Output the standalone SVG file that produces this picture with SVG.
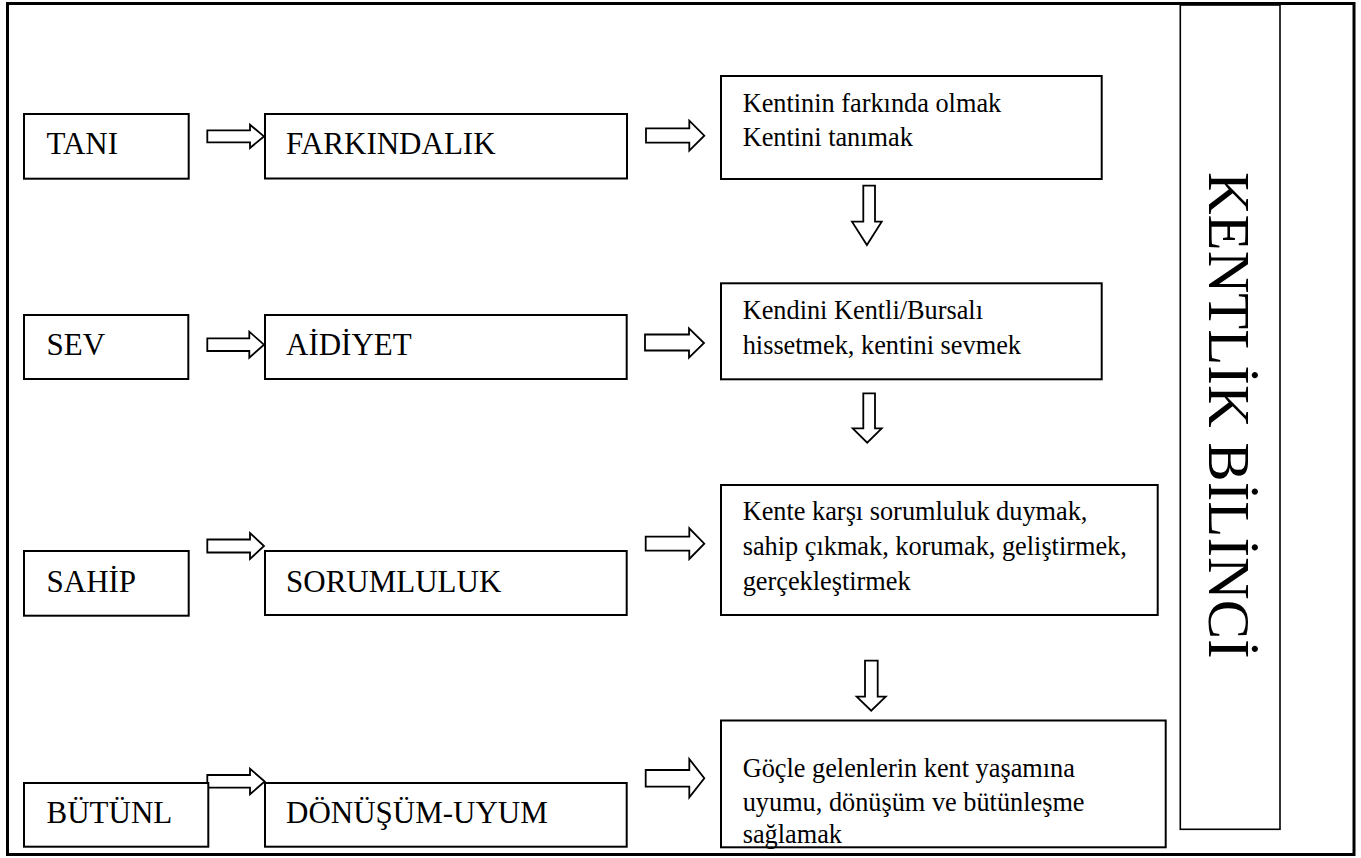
<svg xmlns="http://www.w3.org/2000/svg" width="1361" height="858" viewBox="0 0 1361 858">
<style>
.box{fill:#fff;stroke:#000;stroke-width:2}
.arr{fill:#fff;stroke:#000;stroke-width:1.8;stroke-linejoin:miter}
.lbl{font-family:"Liberation Serif","Times New Roman",serif;font-size:31px;fill:#000}
.txt{font-family:"Liberation Serif","Times New Roman",serif;font-size:26.3px;fill:#000}
.vt{font-family:"Liberation Serif","Times New Roman",serif;font-size:59px;fill:#000}
</style>
<rect x="0" y="0" width="1361" height="858" fill="#fff"/>
<rect id="frame" x="7.5" y="3.5" width="1346.5" height="851" fill="none" stroke="#000" stroke-width="3"/>

<g id="connectors">
<polygon class="arr" points="207.3,130.4 250,130.4 250,124.7 264,136.4 250,148 250,142.4 207.3,142.4"/>
<polygon class="arr" points="646,128.3 689.3,128.3 689.3,120.7 704.3,135.7 689.3,150.7 689.3,142.7 646,142.7"/>
<polygon class="arr" points="852,221.7 863.3,221.7 863.3,185.7 875,185.7 875,221.7 881.7,221.7 866.9,245"/>

<polygon class="arr" points="207.3,338.3 249.3,338.3 249.3,331.7 264,344.7 249.3,357.7 249.3,351 207.3,351"/>
<polygon class="arr" points="645,334.5 689,334.5 689,328.3 704,343 689,357.7 689,350.5 645,350.5"/>
<polygon class="arr" points="852.7,428.3 863.3,428.3 863.3,393.3 875,393.3 875,428.3 881.7,428.3 867.2,442.7"/>

<polygon class="arr" points="207.3,539.5 250,539.5 250,533 264,546 250,559 250,552.5 207.3,552.5"/>
<polygon class="arr" points="645.7,536.7 689.3,536.7 689.3,528.3 704.3,543.7 689.3,559 689.3,550.7 645.7,550.7"/>
<polygon class="arr" points="856.7,696.7 865,696.7 865,660.7 877.7,660.7 877.7,696.7 885.7,696.7 871.2,710.7"/>

<polygon class="arr" points="207.3,775 250,775 250,768.7 264.7,781.5 250,794.3 250,787.7 207.3,787.7"/>
<polygon class="arr" points="645.7,770 689.3,770 689.3,759 704.3,778.2 689.3,797.3 689.3,786.7 645.7,786.7"/>
</g>

<g id="tani"><rect class="box" x="24" y="114" width="164.7" height="64.7"/><text class="lbl" x="46.5" y="154.3">TANI</text></g>
<g id="farkindalik"><rect class="box" x="265" y="114" width="362" height="64.5"/><text class="lbl" x="286" y="154.3">FARKINDALIK</text></g>
<g id="kentinin"><rect class="box" x="721" y="76" width="380.7" height="103"/><text class="txt" x="742.7" y="111.7">Kentinin farkında olmak</text><text class="txt" x="742.7" y="146">Kentini tanımak</text></g>

<g id="sev"><rect class="box" x="24" y="315" width="164.3" height="64"/><text class="lbl" x="46.5" y="355">SEV</text></g>
<g id="aidiyet"><rect class="box" x="265" y="315" width="361.7" height="64"/><text class="lbl" x="286" y="355">AİDİYET</text></g>
<g id="kendini"><rect class="box" x="721" y="283.3" width="380.7" height="96"/><text class="txt" x="742.7" y="319.3">Kendini Kentli/Bursalı</text><text class="txt" x="742.7" y="354">hissetmek, kentini sevmek</text></g>

<g id="sahip"><rect class="box" x="24" y="551" width="164.7" height="64.7"/><text class="lbl" x="46.5" y="591.7">SAHİP</text></g>
<g id="sorumluluk"><rect class="box" x="265" y="551" width="361.7" height="64"/><text class="lbl" x="286" y="591.7">SORUMLULUK</text></g>
<g id="kente"><rect class="box" x="721" y="485" width="436.7" height="130"/><text class="txt" x="742.7" y="520">Kente karşı sorumluluk duymak,</text><text class="txt" x="742.7" y="555">sahip çıkmak, korumak, geliştirmek,</text><text class="txt" x="742.7" y="590">gerçekleştirmek</text></g>

<g id="butunl"><rect class="box" x="24" y="783" width="184.3" height="63.7"/><text class="lbl" x="46.5" y="823.3">BÜTÜNL</text></g>
<g id="donusum"><rect class="box" x="265" y="783" width="361.7" height="63.7"/><text class="lbl" x="286" y="823.3">DÖNÜŞÜM-UYUM</text></g>
<g id="gocle"><rect class="box" x="721" y="720.5" width="444.7" height="126.8"/><text class="txt" x="742.7" y="777">Göçle gelenlerin kent yaşamına</text><text class="txt" x="742.7" y="811">uyumu, dönüşüm ve bütünleşme</text><text class="txt" x="742.7" y="843">sağlamak</text></g>

<g id="kentlilik"><rect x="1180.3" y="5" width="99.7" height="824.3" fill="#fff" stroke="#000" stroke-width="1.6"/><text class="vt" transform="translate(1209,172) rotate(90)" x="0" y="0">KENTLİK BİLİNCİ</text></g>
</svg>
